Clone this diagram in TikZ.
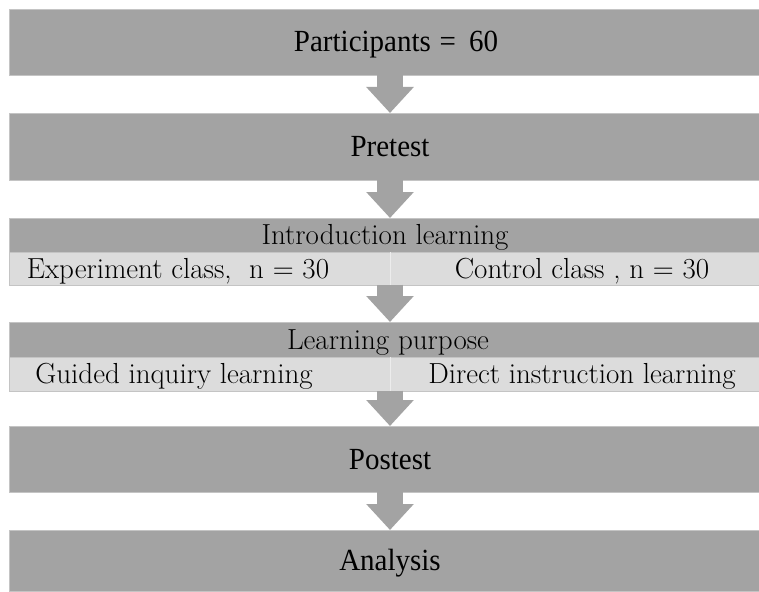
\documentclass[tikz,border=0pt]{standalone}
\usepackage{fontspec}
\newfontfamily\timesf{Liberation Serif}
\usetikzlibrary{arrows.meta}
\definecolor{darkbar}{RGB}{163,163,163}
\definecolor{lightbar}{RGB}{220,220,220}
\definecolor{edgeline}{RGB}{196,196,196}
\definecolor{splitline}{RGB}{236,236,236}
\begin{document}
\begin{tikzpicture}[x=1pt,y=-1pt,
  bar/.style={fill=darkbar, draw=edgeline, line width=0.6pt, inner sep=0pt, outer sep=0pt, minimum width=750pt},
  cell/.style={fill=lightbar, draw=edgeline, line width=0.6pt, inner sep=0pt, outer sep=0pt},
  bigtext/.style={anchor=base, inner sep=0pt, font=\timesf\fontsize{29}{34}\selectfont},
  smalltext/.style={anchor=base, inner sep=0pt, font=\fontsize{29}{34}\selectfont},
  flow/.style={darkbar, line width=26pt, -{Triangle[width=46pt,length=26pt]}, shorten <=-0.3pt}
]
\useasboundingbox[fill=white] (0,0) rectangle (759,591);
\coordinate (ax) at (390,0);

% bars
\node[bar, minimum height=66pt] (b1) at (384,42) {};
\node[bar, minimum height=67pt] (b2) at (384,146.5) {};
\node[bar, minimum height=34pt] (b3) at (384,235) {};
\node[cell, minimum width=381pt, minimum height=33pt] (c1) at (199.5,268.5) {};
\node[cell, minimum width=369pt, minimum height=33pt] (c2) at (574.5,268.5) {};
\node[bar, minimum height=35pt] (b4) at (384,339.5) {};
\node[cell, minimum width=381pt, minimum height=34pt] (c3) at (199.5,374) {};
\node[cell, minimum width=369pt, minimum height=34pt] (c4) at (574.5,374) {};
\node[bar, minimum height=66pt] (b5) at (384,459) {};
\node[bar, minimum height=61pt] (b6) at (384,560.5) {};

% split lines between light cells
\draw[splitline, line width=0.8pt] (c1.north east) -- (c1.south east);
\draw[splitline, line width=0.8pt] (c3.north east) -- (c3.south east);

% texts
\node[bigtext] (t1) at (396,52) {\scalebox{1}[1.06]{Participants\hspace{0.3em}=\hspace{0.45em}60}};
\node[bigtext] (t2) at (390,156) {\scalebox{1}[1.06]{Pretest}};
\node[smalltext] (t3) at (385,244.5) {Introduction learning};
\node[smalltext] (t4) at (178,278) {Experiment class,\ \ n = 30};
\node[smalltext] (t5) at (582,278) {Control class , n = 30};
\node[smalltext] (t6) at (388,349) {Learning purpose};
\node[smalltext] (t7) at (174,383) {Guided inquiry learning};
\node[smalltext] (t8) at (582,383) {Direct instruction learning};
\node[bigtext] (t9) at (390,469) {\scalebox{1}[1.06]{Postest}};
\node[bigtext] (t10) at (390,570) {\scalebox{1}[1.06]{Analysis}};

% arrows
\draw[flow] (b1.south -| ax) -- (b2.north -| ax);
\draw[flow] (b2.south -| ax) -- (b3.north -| ax);
\draw[flow] (c1.south -| ax) -- (b4.north -| ax);
\draw[flow] (c3.south -| ax) -- (b5.north -| ax);
\draw[flow] (b5.south -| ax) -- (b6.north -| ax);
\end{tikzpicture}
\end{document}
